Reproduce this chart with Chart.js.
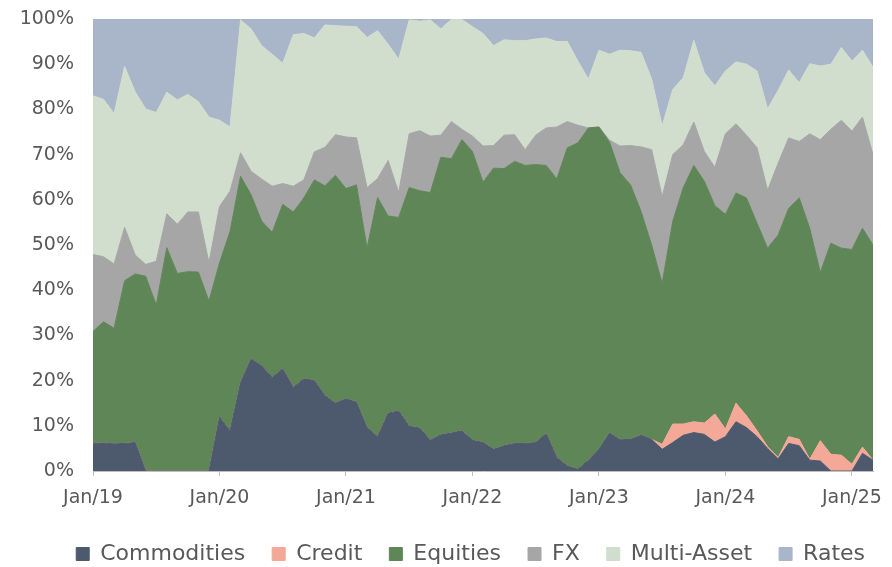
<!DOCTYPE html>
<html>
<head>
<meta charset="utf-8">
<script src="https://cdn.jsdelivr.net/npm/chart.js@4.4.1/dist/chart.umd.min.js"></script>
<style>
  html, body { margin: 0; padding: 0; background: #fff; }
</style>
</head>
<body>
<canvas id="chart" width="892" height="567"></canvas>
<script>
// monthly share of notional by asset class, Jan/19 .. Mar/25 (percent)
const monthNames = ['Jan', 'Feb', 'Mar', 'Apr', 'May', 'Jun', 'Jul', 'Aug', 'Sep', 'Oct', 'Nov', 'Dec'];
const years = ['19', '20', '21', '22', '23', '24', '25'];
const labels = [];
years.forEach((y) => monthNames.forEach((m) => labels.push(m + '/' + y)));
labels.length = 75;

const commodities = [
    6.1, 6.2, 6.0, 6.1, 6.3, 0, 0, 0, 0, 0, 0, 0,
    11.9, 8.9, 19.6, 24.8, 23.3, 20.7, 22.6, 18.5, 20.4, 20.0, 16.7, 15.0,
    16.0, 15.2, 9.6, 7.6, 12.8, 13.3, 9.9, 9.5, 6.8, 8.0, 8.4, 8.9,
    6.8, 6.3, 4.8, 5.6, 6.1, 6.1, 6.3, 8.3, 3.0, 1.1, 0.4, 2.4,
    4.8, 8.4, 6.9, 7.0, 7.9, 7.0, 4.8, 6.3, 7.9, 8.5, 8.1, 6.4,
    7.6, 10.9, 9.6, 7.6, 5.0, 2.7, 6.1, 5.6, 2.4, 2.2, 0, 0,
    0, 3.9, 2.4
];
const credit = [
    0, 0, 0, 0, 0, 0, 0, 0, 0, 0, 0, 0,
    0, 0, 0, 0, 0, 0, 0, 0, 0, 0, 0, 0,
    0, 0, 0, 0, 0, 0, 0, 0, 0, 0, 0, 0,
    0, 0, 0, 0, 0, 0, 0, 0, 0, 0, 0, 0,
    0, 0, 0, 0, 0, 0, 1.1, 4.1, 2.5, 2.4, 2.5, 6.2,
    1.7, 4.1, 2.6, 1.3, 0.4, 0.3, 1.5, 1.4, 0.2, 4.5, 3.7, 3.5,
    1.5, 1.4, 0
];
const equities = [
    24.8, 26.8, 25.6, 36.0, 37.3, 43.1, 36.7, 49.4, 43.7, 44.1, 44.0, 37.6,
    34.1, 44.1, 45.6, 36.3, 32.0, 32.1, 36.4, 38.8, 40.0, 44.4, 46.4, 50.4,
    46.5, 48.1, 39.7, 52.9, 43.6, 42.8, 52.8, 52.5, 54.8, 61.4, 60.7, 64.4,
    63.9, 57.6, 62.2, 61.3, 62.4, 61.5, 61.5, 59.3, 61.6, 70.4, 72.2, 73.5,
    71.3, 64.4, 59.1, 56.3, 49.5, 43.0, 35.6, 44.8, 52.3, 56.7, 53.5, 46.1,
    47.5, 46.5, 48.2, 45.9, 43.9, 49.2, 50.5, 53.4, 51.1, 37.2, 46.7, 45.8,
    47.5, 48.4, 47.6
];
const fx = [
    17.0, 14.4, 14.2, 11.8, 4.2, 2.6, 9.7, 7.5, 10.9, 13.2, 13.3, 8.5,
    12.5, 8.9, 5.2, 5.2, 9.3, 10.2, 4.6, 5.7, 4.0, 6.2, 8.5, 9.0,
    11.4, 10.4, 13.4, 4.2, 12.3, 5.5, 11.9, 13.3, 12.5, 4.9, 8.2, 2.3,
    3.4, 8.0, 5.0, 7.4, 5.9, 3.5, 6.5, 8.3, 11.5, 5.8, 3.9, 0,
    0, 0.4, 5.9, 8.7, 14.3, 21.1, 19.2, 14.8, 9.5, 9.6, 6.6, 8.5,
    17.8, 15.3, 13.9, 16.7, 12.8, 15.9, 15.6, 12.5, 20.9, 29.4, 25.2, 28.3,
    26.2, 24.6, 20.0
];
const multiAsset = [
    35.1, 34.8, 33.3, 35.6, 36.1, 34.4, 32.9, 26.9, 27.5, 26.0, 24.4, 32.2,
    19.1, 14.2, 29.4, 31.5, 29.5, 29.2, 26.6, 33.5, 32.4, 25.2, 27.1, 24.1,
    24.5, 24.6, 33.2, 32.7, 25.7, 29.5, 25.2, 24.2, 25.7, 23.5, 22.6, 24.3,
    24.2, 24.9, 22.1, 21.1, 20.8, 24.1, 21.3, 19.9, 18.9, 17.7, 14.2, 10.8,
    17.0, 19.0, 21.2, 21.0, 20.9, 15.6, 15.6, 14.4, 14.8, 18.1, 17.4, 18.0,
    13.9, 13.7, 15.7, 17.0, 18.0, 16.1, 15.0, 13.0, 15.5, 16.3, 14.4, 16.1,
    15.5, 14.8, 19.3
];
const rates = [
    17.0, 17.8, 20.9, 10.5, 16.1, 19.9, 20.7, 16.2, 17.9, 16.7, 18.3, 21.7,
    22.4, 23.9, 0.2, 2.2, 5.9, 7.8, 9.8, 3.5, 3.2, 4.2, 1.3, 1.5,
    1.6, 1.7, 4.1, 2.6, 5.6, 8.9, 0.2, 0.5, 0.2, 2.2, 0.1, 0.1,
    1.7, 3.2, 5.9, 4.6, 4.8, 4.8, 4.4, 4.2, 5.0, 5.0, 9.3, 13.3,
    6.9, 7.8, 6.9, 7.0, 7.4, 13.3, 23.7, 15.6, 13.0, 4.7, 11.9, 14.8,
    11.5, 9.5, 10.0, 11.5, 19.9, 15.8, 11.3, 14.1, 9.9, 10.4, 10.0, 6.3,
    9.3, 6.9, 10.7
];

const yTicks = [0, 10, 20, 30, 40, 50, 60, 70, 80, 90, 100];

const series = [
    { name: 'Commodities', data: commodities, color: '#4d5a6e' },
    { name: 'Credit', data: credit, color: '#f3a898' },
    { name: 'Equities', data: equities, color: '#5f8656' },
    { name: 'FX', data: fx, color: '#a6a6a6' },
    { name: 'Multi-Asset', data: multiAsset, color: '#d1ddcd' },
    { name: 'Rates', data: rates, color: '#a9b5c9' }
];

const textColor = '#595959';
const fontFamily = '"DejaVu Sans", sans-serif';

new Chart(document.getElementById('chart'), {
    type: 'line',
    data: {
        labels: labels,
        datasets: series.map((s, i) => ({
            label: s.name,
            data: s.data,
            backgroundColor: s.color,
            borderColor: s.color,
            borderWidth: 1,
            pointRadius: 0,
            tension: 0,
            fill: i === 0 ? 'origin' : '-1'
        }))
    },
    options: {
        responsive: false,
        animation: false,
        // negative bottom padding lets the roomy legend hang a bit lower
        layout: { padding: { top: 19, right: 0, bottom: -8, left: 5 } },
        plugins: {
            tooltip: { enabled: false },
            legend: {
                position: 'bottom',
                align: 'end',
                labels: {
                    color: textColor,
                    font: { family: fontFamily, size: 22 },
                    boxWidth: 13,
                    boxHeight: 13,
                    padding: 27
                }
            }
        },
        scales: {
            x: {
                offset: false,
                afterFit: (scale) => { scale.height = 45; },
                grid: {
                    drawOnChartArea: false,
                    tickLength: 5,
                    color: (ctx) => (ctx.index % 12 === 0 ? '#bfbfbf' : 'rgba(0,0,0,0)')
                },
                border: { color: '#bfbfbf' },
                ticks: {
                    autoSkip: false,
                    maxRotation: 0,
                    padding: 11,
                    color: textColor,
                    font: { family: fontFamily, size: 19 },
                    callback: (value, index) => (index % 12 === 0 ? labels[index] : '')
                }
            },
            y: {
                stacked: true,
                min: 0,
                max: 100,
                afterFit: (scale) => {
                    scale.width = 88;
                    scale.paddingTop = 0;
                    scale.paddingBottom = 0;
                },
                afterBuildTicks: (scale) => { scale.ticks = yTicks.map((v) => ({ value: v })); },
                grid: {
                    drawTicks: false,
                    color: (ctx) => (ctx.tick && ctx.tick.value === 100 ? '#d9d9d9' : 'rgba(0,0,0,0)')
                },
                border: { display: false },
                ticks: {
                    padding: 19,
                    color: textColor,
                    font: { family: fontFamily, size: 19 },
                    callback: (v) => v + '%'
                }
            },
            // empty right-hand axis: keeps the plot 19px off the right edge
            spacer: {
                type: 'linear',
                position: 'right',
                afterFit: (scale) => {
                    scale.width = 19;
                    scale.paddingTop = 0;
                    scale.paddingBottom = 0;
                },
                grid: { display: false },
                border: { display: false },
                ticks: { display: false }
            }
        }
    }
});
</script>
</body>
</html>
